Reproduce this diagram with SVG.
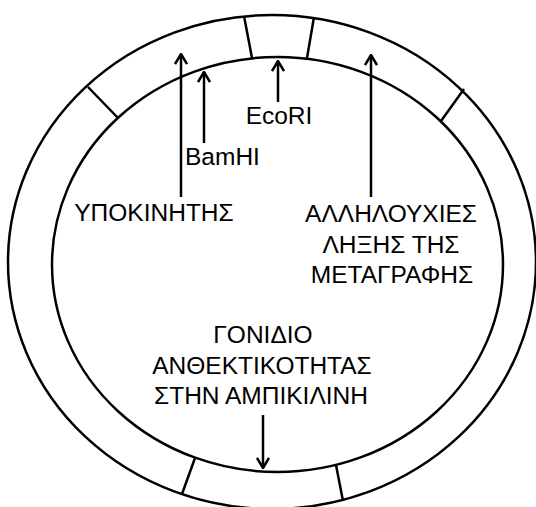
<svg xmlns="http://www.w3.org/2000/svg" width="536" height="507" viewBox="0 0 536 507">
<defs>
<style>
.ring{fill:none;stroke:#000;stroke-width:2.5}
.div{stroke:#000;stroke-width:2.5}
.arr{stroke:#000;stroke-width:2.5;fill:none}
.lbl{font-family:"Liberation Sans",Arial,sans-serif;font-size:24.5px;fill:#000}
.mid{text-anchor:middle}
</style>
<marker id="ah" viewBox="0 0 12 14" refX="11" refY="7" markerWidth="12" markerHeight="14" markerUnits="userSpaceOnUse" orient="auto">
<path d="M1,1 L11,7 L1,13" fill="none" stroke="#000" stroke-width="2.5"/>
</marker>
</defs>
<rect width="536" height="507" fill="#fff"/>
<g id="plasmid">
<ellipse class="ring" cx="272" cy="262" rx="264" ry="247"/>
<ellipse class="ring" cx="277.5" cy="264.5" rx="225.5" ry="207.5"/>
<line class="div" x1="88" y1="87" x2="118" y2="118"/>
<line class="div" x1="244" y1="16" x2="252" y2="58"/>
<line class="div" x1="314" y1="17" x2="307" y2="58"/>
<line class="div" x1="464" y1="89" x2="441" y2="121"/>
<line class="div" x1="195" y1="458" x2="182" y2="494"/>
<line class="div" x1="336" y1="465" x2="343" y2="501"/>
</g>
<g id="connectors">
<line class="arr" x1="181" y1="197" x2="181" y2="54" marker-end="url(#ah)"/>
<line class="arr" x1="204" y1="143" x2="204" y2="72" marker-end="url(#ah)"/>
<line class="arr" x1="278" y1="102" x2="278" y2="61" marker-end="url(#ah)"/>
<line class="arr" x1="371" y1="197" x2="371" y2="55" marker-end="url(#ah)"/>
<line class="arr" x1="263" y1="415" x2="263" y2="468" marker-end="url(#ah)"/>
</g>
<g id="ecori"><text class="lbl mid" x="279" y="124">EcoRI</text></g>
<g id="bamhi"><text class="lbl" x="185" y="165">BamHI</text></g>
<g id="promoter"><text class="lbl mid" x="154" y="221">ΥΠΟΚΙΝΗΤΗΣ</text></g>
<g id="terminator"><text class="lbl mid" x="391" y="222">ΑΛΛΗΛΟΥΧΙΕΣ</text><text class="lbl mid" x="391" y="253">ΛΗΞΗΣ ΤΗΣ</text><text class="lbl mid" x="392" y="283">ΜΕΤΑΓΡΑΦΗΣ</text></g>
<g id="ampr"><text class="lbl mid" x="263" y="343">ΓΟΝΙΔΙΟ</text><text class="lbl mid" x="262" y="374">ΑΝΘΕΚΤΙΚΟΤΗΤΑΣ</text><text class="lbl mid" x="261" y="404">ΣΤΗΝ ΑΜΠΙΚΙΛΙΝΗ</text></g>
</svg>
